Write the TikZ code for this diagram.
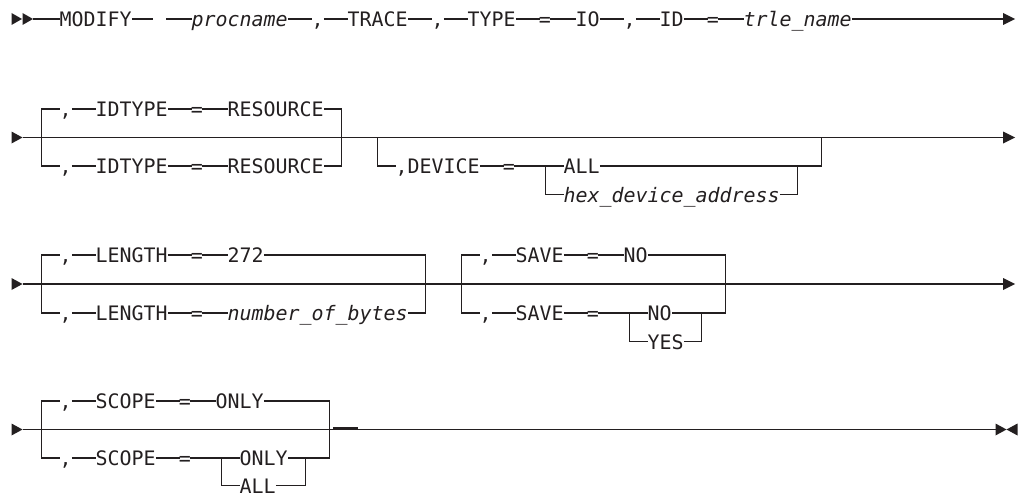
\documentclass[tikz,border=0pt]{standalone}
\usepackage{fontspec}
\newfontfamily\railfont{DejaVu Sans Mono}
\usetikzlibrary{calc}
\definecolor{ink}{HTML}{231F20}
% left edge of character cell #1
\newcommand{\cx}[1]{11.5+12*#1}

\begin{document}
\begin{tikzpicture}[x=1pt,y=-1pt,
    rail/.style={draw=ink,line width=1.3pt},
    tok/.style={anchor=west,inner sep=0pt,text height=15.5pt,text depth=0pt,text=ink,
        font=\railfont\fontsize{19.93}{24}\selectfont},
    var/.style={tok,font=\railfont\itshape\fontsize{19.93}{24}\selectfont},
    eqs/.style={tok,inner xsep=-0.8pt}]
    \useasboundingbox (0,0) rectangle (1018,495);

    % Row 1: MODIFY procname,TRACE,TYPE=IO,ID=trle_name
    \coordinate (r1s) at (33,19);
    \coordinate (r1e) at (1003,19);
    \coordinate (gapl) at (153,19);
    \coordinate (gapr) at (166,19);
    \node[tok] (modify) at ({\cx{4}},19) {MODIFY};
    \node[var] (procname) at ({\cx{15}},19) {procname};
    \node[tok] (comA) at ({\cx{25}},19) {,};
    \node[tok] (trace) at ({\cx{28}},19) {TRACE};
    \node[tok] (comB) at ({\cx{35}},19) {,};
    \node[tok] (type) at ({\cx{38}},19) {TYPE};
    \node[eqs] (eqA) at ({\cx{44}},19) {=};
    \node[tok] (io) at ({\cx{47}},19) {IO};
    \node[tok] (comC) at ({\cx{51}},19) {,};
    \node[tok] (id) at ({\cx{54}},19) {ID};
    \node[eqs] (eqB) at ({\cx{58}},19) {=};
    \node[var] (trle) at ({\cx{61}},19) {trle\_name};

    \fill[ink] ($(r1s)+(-21.5,-6)$) -- ($(r1s)+(-11,0)$) -- ($(r1s)+(-21.5,6)$) -- cycle;
    \fill[ink] ($(r1s)+(-10.5,-6)$) -- (r1s) -- ($(r1s)+(-10.5,6)$) -- cycle;
    \draw[rail] (r1s) -- (modify.west) (modify.east) -- (gapl)
        (gapr) -- (procname.west) (procname.east) -- (comA.west)
        (comA.east) -- (trace.west) (trace.east) -- (comB.west)
        (comB.east) -- (type.west) (type.east) -- (eqA.west)
        (eqA.east) -- (io.west) (io.east) -- (comC.west)
        (comC.east) -- (id.west) (id.east) -- (eqB.west)
        (eqB.east) -- (trle.west) (trle.east) -- (r1e);
    \fill[ink] ($(r1e)+(0,-6)$) -- ($(r1e)+(12,0)$) -- ($(r1e)+(0,6)$) -- cycle;

    % Row 2: IDTYPE choice, optional DEVICE
    \coordinate (r2s) at (22.5,137.5);
    \coordinate (r2e) at (1003,137.5);
    \fill[ink] ($(r2s)+(-11,-6)$) -- (r2s) -- ($(r2s)+(-11,6)$) -- cycle;
    \draw[rail] (r2s) -- (r2e);
    \fill[ink] ($(r2e)+(0,-6)$) -- ($(r2e)+(12,0)$) -- ($(r2e)+(0,6)$) -- cycle;

    \node[tok] (comD) at ({\cx{4}},109) {,};
    \node[tok] (idtA) at ({\cx{7}},109) {IDTYPE};
    \node[eqs] (eqC) at ({\cx{15}},109) {=};
    \node[tok] (resA) at ({\cx{18}},109) {RESOURCE};
    \node[tok] (comE) at ({\cx{4}},166) {,};
    \node[tok] (idtB) at ({\cx{7}},166) {IDTYPE};
    \node[eqs] (eqD) at ({\cx{15}},166) {=};
    \node[tok] (resB) at ({\cx{18}},166) {RESOURCE};
    \draw[rail] (comD.west) -- ({\cx{2}+6},109) -- ({\cx{2}+6},166) -- (comE.west);
    \draw[rail] (resA.east) -- ({\cx{27}+6},109) -- ({\cx{27}+6},166) -- (resB.east);
    \draw[rail] (comD.east) -- (idtA.west) (idtA.east) -- (eqC.west) (eqC.east) -- (resA.west)
        (comE.east) -- (idtB.west) (idtB.east) -- (eqD.west) (eqD.east) -- (resB.west);

    \coordinate (devin) at ({\cx{30}+6},137.5);
    \coordinate (devout) at ({\cx{67}+6},137.5);
    \coordinate (devj) at ({\cx{44}+6},166);
    \coordinate (devk) at ({\cx{65}+6},166);
    \node[tok] (device) at ({\cx{32}},166) {,DEVICE};
    \node[eqs] (eqE) at ({\cx{41}},166) {=};
    \node[tok] (allA) at ({\cx{46}},166) {ALL};
    \node[var] (hex) at ({\cx{46}},194.5) {hex\_device\_address};
    \draw[rail] (devin) |- (device.west) (device.east) -- (eqE.west)
        (eqE.east) -- (allA.west) (allA.east) -| (devout);
    \draw[rail] (devj) |- (hex.west) (hex.east) -| (devk);

    % Row 3: LENGTH choice, SAVE choice
    \coordinate (r3s) at (22.5,284);
    \coordinate (r3e) at (1003,284);
    \fill[ink] ($(r3s)+(-11,-6)$) -- (r3s) -- ($(r3s)+(-11,6)$) -- cycle;
    \draw[rail] (r3s) -- (r3e);
    \fill[ink] ($(r3e)+(0,-6)$) -- ($(r3e)+(12,0)$) -- ($(r3e)+(0,6)$) -- cycle;

    \node[tok] (comF) at ({\cx{4}},255) {,};
    \node[tok] (lenA) at ({\cx{7}},255) {LENGTH};
    \node[eqs] (eqF) at ({\cx{15}},255) {=};
    \node[tok] (dflt) at ({\cx{18}},255) {272};
    \node[tok] (comG) at ({\cx{4}},313) {,};
    \node[tok] (lenB) at ({\cx{7}},313) {LENGTH};
    \node[eqs] (eqG) at ({\cx{15}},313) {=};
    \node[var] (nbytes) at ({\cx{18}},313) {number\_of\_bytes};
    \draw[rail] (comF.west) -- ({\cx{2}+6},255) -- ({\cx{2}+6},313) -- (comG.west);
    \draw[rail] (dflt.east) -- ({\cx{34}+6},255) -- ({\cx{34}+6},313) -- (nbytes.east);
    \draw[rail] (comF.east) -- (lenA.west) (lenA.east) -- (eqF.west) (eqF.east) -- (dflt.west)
        (comG.east) -- (lenB.west) (lenB.east) -- (eqG.west) (eqG.east) -- (nbytes.west);

    \coordinate (savj) at ({\cx{51}+6},313);
    \coordinate (savk) at ({\cx{57}+6},313);
    \node[tok] (comH) at ({\cx{39}},255) {,};
    \node[tok] (saveA) at ({\cx{42}},255) {SAVE};
    \node[eqs] (eqH) at ({\cx{48}},255) {=};
    \node[tok] (noA) at ({\cx{51}},255) {NO};
    \node[tok] (comI) at ({\cx{39}},313) {,};
    \node[tok] (saveB) at ({\cx{42}},313) {SAVE};
    \node[eqs] (eqI) at ({\cx{48}},313) {=};
    \node[tok] (noB) at ({\cx{53}},313) {NO};
    \node[tok] (yes) at ({\cx{53}},341.5) {YES};
    \draw[rail] (comH.west) -- ({\cx{37}+6},255) -- ({\cx{37}+6},313) -- (comI.west);
    \draw[rail] (noA.east) -- ({\cx{59}+6},255) -- ({\cx{59}+6},313) -- (noB.east);
    \draw[rail] (comH.east) -- (saveA.west) (saveA.east) -- (eqH.west) (eqH.east) -- (noA.west)
        (comI.east) -- (saveB.west) (saveB.east) -- (eqI.west) (eqI.east) -- (noB.west);
    \draw[rail] (savj) |- (yes.west) (yes.east) -| (savk);

    % Row 4: SCOPE choice, end of statement
    \coordinate (r4s) at (22.5,429.5);
    \coordinate (r4e) at (995.5,429.5);
    \coordinate (strl) at (333,428);
    \coordinate (strr) at (358,428);
    \fill[ink] ($(r4s)+(-11,-6)$) -- (r4s) -- ($(r4s)+(-11,6)$) -- cycle;
    \draw[rail] (r4s) -- (r4e);
    \draw[rail] (strl) -- (strr);
    \fill[ink] ($(r4e)+(0,-6)$) -- ($(r4e)+(11,0)$) -- ($(r4e)+(0,6)$) -- cycle;
    \fill[ink] ($(r4e)+(22,-6)$) -- ($(r4e)+(11,0)$) -- ($(r4e)+(22,6)$) -- cycle;

    \coordinate (scj) at ({\cx{17}+6},458);
    \coordinate (sck) at ({\cx{24}+6},458);
    \node[tok] (comJ) at ({\cx{4}},401) {,};
    \node[tok] (scopeA) at ({\cx{7}},401) {SCOPE};
    \node[eqs] (eqJ) at ({\cx{14}},401) {=};
    \node[tok] (onlyA) at ({\cx{17}},401) {ONLY};
    \node[tok] (comK) at ({\cx{4}},458) {,};
    \node[tok] (scopeB) at ({\cx{7}},458) {SCOPE};
    \node[eqs] (eqK) at ({\cx{14}},458) {=};
    \node[tok] (onlyB) at ({\cx{19}},458) {ONLY};
    \node[tok] (allB) at ({\cx{19}},485.5) {ALL};
    \draw[rail] (comJ.west) -- ({\cx{2}+6},401) -- ({\cx{2}+6},458) -- (comK.west);
    \draw[rail] (onlyA.east) -- ({\cx{26}+6},401) -- ({\cx{26}+6},458) -- (onlyB.east);
    \draw[rail] (comJ.east) -- (scopeA.west) (scopeA.east) -- (eqJ.west) (eqJ.east) -- (onlyA.west)
        (comK.east) -- (scopeB.west) (scopeB.east) -- (eqK.west) (eqK.east) -- (onlyB.west);
    \draw[rail] (scj) |- (allB.west) (allB.east) -| (sck);
\end{tikzpicture}
\end{document}
